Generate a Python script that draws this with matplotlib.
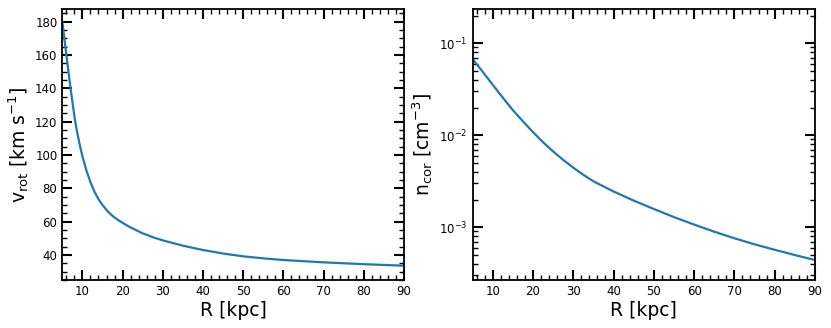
import matplotlib
matplotlib.use('Agg')
import matplotlib.pyplot as plt
from matplotlib.ticker import MultipleLocator

# rotation curve
r_rot = [5, 5.5, 6, 6.5, 7, 7.5, 8, 8.5, 9, 9.5, 10, 11, 12, 13, 14, 15, 16, 17, 18, 19, 20,
         22, 25, 28, 30, 35, 40, 45, 50, 55, 60, 70, 80, 90]
v_rot = [180, 170, 160.3, 150.5, 141, 132, 123.5, 116, 110, 104.3, 99.3, 90.7, 83.7, 78, 73.5,
         70, 67, 64.5, 62.5, 60.8, 59.3, 56.5, 53, 50.3, 48.8, 45.6, 43, 40.9, 39.2, 38, 37,
         35.6, 34.5, 33.6]

# corona density
r_cor = [5, 6, 7, 8, 9, 10, 12.5, 15, 17.5, 20, 22.5, 25, 27.5, 30, 32.5, 35, 40, 45, 50,
         55, 60, 65, 70, 75, 80, 85, 90]
n_cor = [0.0676, 0.0596, 0.0525, 0.0460, 0.0405, 0.0355, 0.0257, 0.0188, 0.0142, 0.01084,
         0.00841, 0.00668, 0.00540, 0.00445, 0.00372, 0.00316, 0.00245, 0.00195, 0.00158,
         0.00129, 0.00107, 0.000895, 0.000759, 0.000653, 0.000569, 0.000499, 0.000440]

plt.rcParams['mathtext.default'] = 'regular'

fig = plt.figure(figsize=(8.31, 3.28), dpi=100)
ax1 = fig.add_axes([0.075, 0.1463, 0.411, 0.8263])
ax2 = fig.add_axes([0.5686, 0.1463, 0.4121, 0.8263])

ax1.plot(r_rot, v_rot, color='#1f77b4', linewidth=1.6)
ax1.set_xlim(5, 90)
ax1.set_ylim(25, 187.6)
ax1.yaxis.set_major_locator(MultipleLocator(20))
ax1.yaxis.set_minor_locator(MultipleLocator(5))
ax1.set_ylabel(r'v$_{rot}$ [km s$^{-1}$]', fontsize=13.5, labelpad=3)

ax2.plot(r_cor, n_cor, color='#1f77b4', linewidth=1.6)
ax2.set_yscale('log')
ax2.set_xlim(5, 90)
ax2.set_ylim(2.67e-4, 0.236)
ax2.set_ylabel(r'n$_{cor}$ [cm$^{-3}$]', fontsize=13.5, labelpad=3)

for ax in (ax1, ax2):
    ax.xaxis.set_major_locator(MultipleLocator(10))
    ax.xaxis.set_minor_locator(MultipleLocator(2))
    ax.set_xlabel('R [kpc]', fontsize=13.5, labelpad=2)
    ax.tick_params(which='both', direction='in', top=True, right=True, labelsize=8.5)
    ax.tick_params(which='major', length=7, width=1.5)
    ax.tick_params(which='minor', length=3.5, width=1)
    for s in ax.spines.values():
        s.set_linewidth(1.3)

fig.savefig('out.png', dpi=100)
